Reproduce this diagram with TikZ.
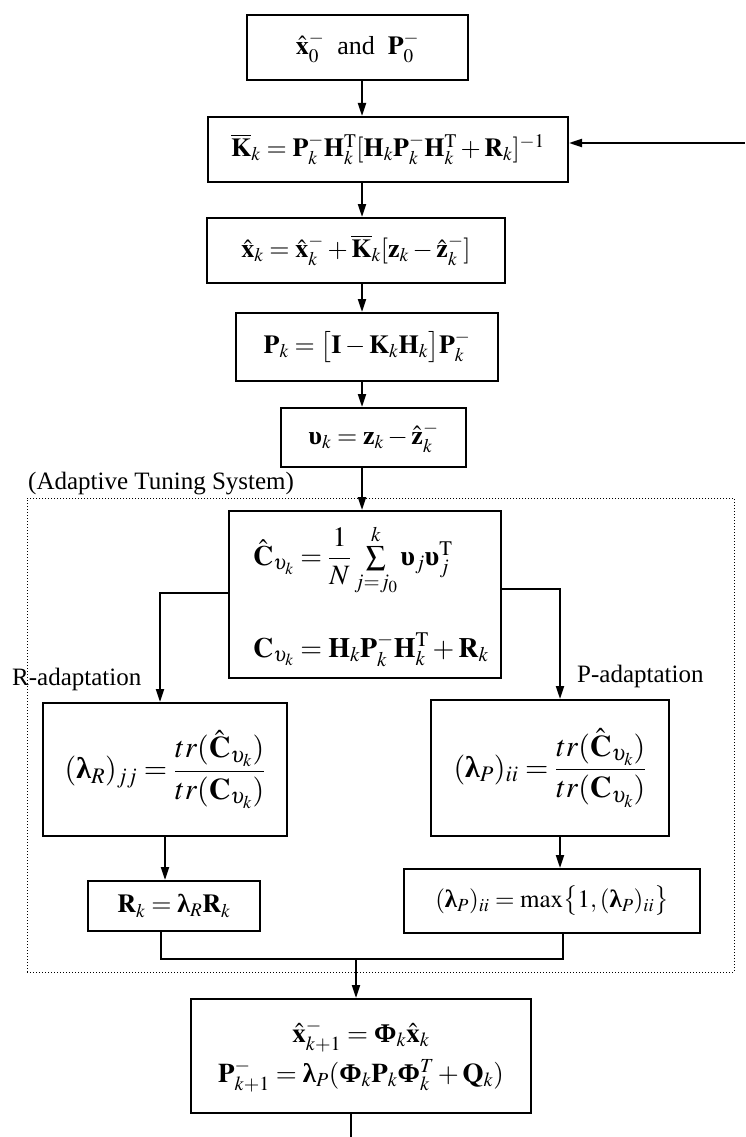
\documentclass[tikz,border=0pt]{standalone}
\usepackage{amsmath}
\usepackage{mathptmx}
\usepackage[no-math]{fontspec}
\setmainfont{Liberation Serif}
\usetikzlibrary{arrows.meta,calc}
\tikzset{
    %Define standard arrow tip
    >={Triangle[length=13pt,width=8pt]},
    % Define arrow style
    flow/.style={
           ->,
           line width=2pt,},
    link/.style={
           line width=2pt,}
}
\newcommand{\blam}{\text{\bfseries λ}}
\newcommand{\bPhi}{\text{\bfseries Φ}}
\newcommand{\bups}{\text{\bfseries υ}}

\begin{document}
\begin{tikzpicture}[x=1pt, y=-1pt, font=\fontsize{25}{30}\selectfont]
\tikzstyle{eqbox}=[draw=black, fill=white, rectangle, line width=2pt, inner sep=0pt, align=center,
                   font=\fontsize{26}{31}\selectfont]
\tikzstyle{atsframe}=[draw=black, dotted, line width=1pt, inner sep=0pt]
\tikzstyle{bigeq}=[font=\fontsize{28}{34}\selectfont]
\useasboundingbox (0,0) rectangle (745,1137);

%%%%%%%%%%%%%%%%%%%%%%%%%%%%%%%%%
% Adaptive tuning frame
%%%%%%%%%%%%%%%%%%%%%%%%%%%%%%%%%
\node[atsframe, minimum width=707pt, minimum height=474pt] (ats) at (380.5,735) {};
\node[anchor=south west, inner sep=0pt] (atslabel) at (28,495) {(Adaptive Tuning System)};

%%%%%%%%%%%%%%%%%%%%%%%%%%%%%%%%%
% Kalman filter loop
%%%%%%%%%%%%%%%%%%%%%%%%%%%%%%%%%
    \node[eqbox, minimum width=221pt, minimum height=65pt] (init)   at (357.5,47.5)
        {$\hat{\mathbf{x}}_0^-$\ \ and \ $\mathbf{P}_0^-$};
    \node[eqbox, minimum width=360pt, minimum height=65pt] (gain)   at (388,149.5)
        {$\overline{\mathbf{K}}_k = \mathbf{P}_k^-\mathbf{H}_k^{\mathrm{T}}[\mathbf{H}_k\mathbf{P}_k^-\mathbf{H}_k^{\mathrm{T}}+\mathbf{R}_k]^{-1}$};
    \node[eqbox, minimum width=298pt, minimum height=65pt] (update) at (356,250.5)
        {$\hat{\mathbf{x}}_k = \hat{\mathbf{x}}_k^- + \overline{\mathbf{K}}_k[\mathbf{z}_k - \hat{\mathbf{z}}_k^-]$};
    \node[eqbox, minimum width=262pt, minimum height=68pt] (covupd) at (367,347)
        {$\mathbf{P}_k = \bigl[\mathbf{I}-\mathbf{K}_k\mathbf{H}_k\bigr]\mathbf{P}_k^-$};
    \node[eqbox, minimum width=185pt, minimum height=59pt] (innov)  at (373.5,437.5)
        {$\bups_k = \mathbf{z}_k - \hat{\mathbf{z}}_k^-$};

%%%%%%%%%%%%%%%%%%%%%%%%%%%%%%%%%
% Adaptation
%%%%%%%%%%%%%%%%%%%%%%%%%%%%%%%%%
    \node[eqbox, minimum width=272pt, minimum height=167pt] (covest) at (365,594.5) {};
    \node[bigeq, anchor=west, inner sep=0pt] (chat) at (253,560)
        {$\hat{\mathbf{C}}_{\upsilon_k} = \dfrac{1}{N}\sum\limits_{j=j_0}^{k}\bups_j\bups_j^{\mathrm{T}}$};
    \node[bigeq, anchor=base west, inner sep=0pt] (ctheo) at (253,657)
        {$\mathbf{C}_{\upsilon_k} = \mathbf{H}_k\mathbf{P}_k^-\mathbf{H}_k^{\mathrm{T}}+\mathbf{R}_k$};

    \node[eqbox, minimum width=244pt, minimum height=133pt, font=\fontsize{30}{36}\selectfont] (lamR) at (165,769.5)
        {$(\blam_R)_{jj} = \dfrac{tr(\hat{\mathbf{C}}_{\upsilon_k})}{tr(\mathbf{C}_{\upsilon_k})}$};
    \node[eqbox, minimum width=238pt, minimum height=136pt, font=\fontsize{30}{36}\selectfont] (lamP) at (550,768)
        {$(\blam_P)_{ii} = \dfrac{tr(\hat{\mathbf{C}}_{\upsilon_k})}{tr(\mathbf{C}_{\upsilon_k})}$};
    \node[eqbox, minimum width=172pt, minimum height=50pt] (Rk)   at (174,906)
        {$\mathbf{R}_k = \blam_R\mathbf{R}_k$};
    \node[eqbox, minimum width=296pt, minimum height=64pt, font=\fontsize{25}{30}\selectfont] (maxP) at (552,901)
        {$(\blam_P)_{ii} = \max\bigl\{1,(\blam_P)_{ii}\bigr\}$};

    \node[anchor=base west, inner sep=0pt] (radapt) at (12,685) {R-adaptation};
    \node[anchor=base west, inner sep=0pt] (padapt) at (577,682) {P-adaptation};

%%%%%%%%%%%%%%%%%%%%%%%%%%%%%%%%%
% Prediction
%%%%%%%%%%%%%%%%%%%%%%%%%%%%%%%%%
    \node[eqbox, minimum width=340pt, minimum height=114pt, font=\fontsize{27}{40}\selectfont] (predict) at (361,1056)
        {$\hat{\mathbf{x}}_{k+1}^- = \bPhi_k\hat{\mathbf{x}}_k$\\
         $\mathbf{P}_{k+1}^- = \blam_P(\bPhi_k\mathbf{P}_k\bPhi_k^T+\mathbf{Q}_k)$};

%%%%%%%%%%%%%%%%%%%%%%%%%%%%%%%%%
% Connectors
%%%%%%%%%%%%%%%%%%%%%%%%%%%%%%%%%
\coordinate (spine)   at (362,0);
\coordinate (loopin)  at (745,143);
\coordinate (rturn)   at (160,593);
\coordinate (pturn)   at (560,589);
\coordinate (joinL)   at (161,959);
\coordinate (joinR)   at (563,959);
\coordinate (joinM)   at (356,959);
\coordinate (loopout) at (351,1137);

\draw[flow] (init.south -| spine) -- (gain.north -| spine);
\draw[flow] (gain.south -| spine) -- (update.north -| spine);
\draw[flow] (update.south -| spine) -- (covupd.north -| spine);
\draw[flow] (covupd.south -| spine) -- (innov.north -| spine);
\draw[flow] (innov.south -| spine) -- (covest.north -| spine);
\draw[flow] (loopin) -- (gain.east |- loopin);

\draw[flow] (covest.west |- rturn) -- (rturn) -- (rturn |- lamR.north);
\draw[flow] (covest.east |- pturn) -- (pturn) -- (pturn |- lamP.north);
\draw[flow] (lamR.south) -- (lamR.south |- Rk.north);
\draw[flow] (lamP.south -| pturn) -- (maxP.north -| pturn);

\draw[link] (Rk.south -| joinL) -- (joinL) -- (joinR) -- (maxP.south -| joinR);
\draw[flow] (joinM) -- (joinM |- predict.north);
\draw[link] (predict.south -| loopout) -- (loopout);

\end{tikzpicture}
\end{document}
